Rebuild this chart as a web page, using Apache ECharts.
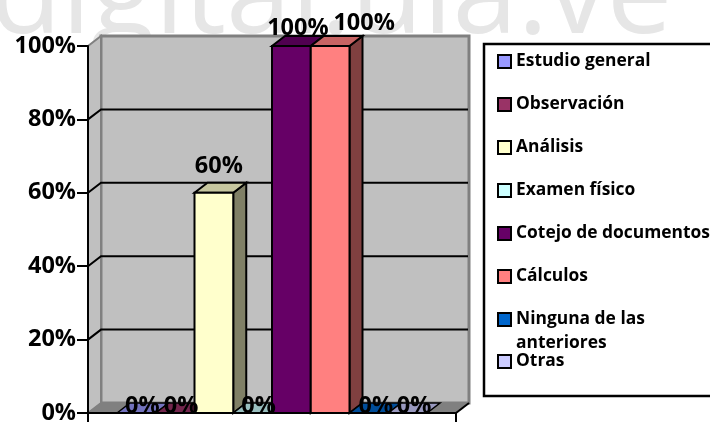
<!DOCTYPE html>
<html><head><meta charset="utf-8">
<style>html,body{margin:0;padding:0;background:#fff}#c{width:710px;height:425px}</style>
<script src="https://cdn.jsdelivr.net/npm/echarts@6/dist/echarts.min.js"></script>
</head><body><div id="c"></div>
<script>
const categories = ['Resultados'];
const seriesNames = ['Estudio general','Observación','Análisis','Examen físico','Cotejo de documentos','Cálculos','Ninguna de las anteriores','Otras'];
const seriesValues = [0,0,0.6,0,1,1,0,0];
const seriesColors = ['#9999FF','#993366','#FFFFCC','#CCFFFF','#660066','#FF8080','#0066CC','#CCCCFF'];
const yTicks = [0,0.2,0.4,0.6,0.8,1];
// label nudges relative to the front-top centre of each bar
const labelDx = [6,6,5,6,6.5,34,7,6.5];
const labelDy = [-7,-7,-26,-7,-18,-23,-7,-7];
const legendTops = [60,103,146,189,232,275,318,360];

const DX = 13, DY = 10, GAP = 29, FONT = '"Open Sans", sans-serif';
const shade = (hex, f) => {
  const n = parseInt(hex.slice(1),16);
  return 'rgb(' + [(n>>16)&255,(n>>8)&255,n&255].map(v=>Math.round(v*f)).join(',') + ')';
};
const barRect = (params, api, i) => {
  const cs = params.coordSys;
  const w = (cs.width - 2*GAP) / seriesNames.length;
  const x0 = cs.x + GAP + w*i;
  const yTop = api.coord([0, api.value(1)])[1];
  return {x0, w, yTop, yBase: cs.y + cs.height};
};
const poly = (points, fill, sw) => ({type:'polygon', shape:{points},
  style:{fill, stroke:'#000', lineWidth:sw===undefined?2:sw, lineJoin:'miter'}});

const wallSeries = {
  type:'custom', name:'__wall', z:1, silent:true, data:yTicks.map(v=>[0,v]),
  encode:{x:0,y:1}, tooltip:{show:false},
  renderItem(params, api){
    const cs = params.coordSys, v = api.value(1), y = api.coord([0,v])[1];
    const L = cs.x, R = cs.x+cs.width, T = cs.y, B = cs.y+cs.height;
    if (v === 0) {
      return {type:'group', children:[
        {type:'polygon', shape:{points:[[L+DX,T-DY],[R+DX,T-DY],[R+DX,B-DY],[L+DX,B-DY]]},
          style:{fill:'#c0c0c0', stroke:'#808080', lineWidth:3}},
        {type:'polygon', shape:{points:[[L,T],[L+DX,T-DY],[L+DX,B-DY],[L,B]]},
          style:{fill:'#c0c0c0', stroke:'#808080', lineWidth:2}},
        {type:'polygon', shape:{points:[[L,B],[L+DX,B-DY],[R+DX,B-DY],[R,B]]},
          style:{fill:'#808080', stroke:'#808080', lineWidth:1}},
        {type:'line', shape:{x1:R,y1:B,x2:R+DX,y2:B-DY}, style:{stroke:'#000',lineWidth:2}}
      ]};
    }
    if (v === 1) return {type:'group', children:[]};
    return {type:'polyline', shape:{points:[[L,y],[L+DX,y-DY],[R+DX-1,y-DY]]},
      style:{fill:'none', stroke:'#000', lineWidth:2}};
  }
};

const barSeries = seriesNames.map((name,i)=>({
  type:'custom', name, z:3+i, itemStyle:{color:seriesColors[i]},
  data:[[0,seriesValues[i]]], encode:{x:0,y:1},
  renderItem(params, api){
    const {x0,w,yTop,yBase} = barRect(params, api, i);
    const c = seriesColors[i];
    if (yBase - yTop < 1) {
      return poly([[x0,yBase],[x0+DX,yBase-DY],[x0+w+DX,yBase-DY],[x0+w,yBase]], shade(c,0.75), 1.5);
    }
    return {type:'group', children:[
      poly([[x0+w,yTop],[x0+w+DX,yTop-DY],[x0+w+DX,yBase-DY],[x0+w,yBase]], shade(c,0.5)),
      poly([[x0,yTop],[x0+DX,yTop-DY],[x0+w+DX,yTop-DY],[x0+w,yTop]], shade(c,0.78)),
      poly([[x0,yTop],[x0+w,yTop],[x0+w,yBase],[x0,yBase]], c)
    ]};
  }
}));

const labelSeries = seriesNames.map((name,i)=>({
  type:'custom', name:'__label'+i, z:20, silent:true, tooltip:{show:false},
  data:[[0,seriesValues[i]]], encode:{x:0,y:1},
  renderItem(params, api){
    const {x0,w,yTop} = barRect(params, api, i);
    return {type:'text', style:{
      text: Math.round(api.value(1)*100)+'%',
      x:x0+w/2+labelDx[i], y:yTop+labelDy[i], align:'center', verticalAlign:'middle',
      font:'bold 23.5px '+FONT, fill:'#000'}};
  }
}));

const legends = seriesNames.map((name,i)=>({
  data:[name], left:497, top:legendTops[i]-9, orient:'vertical',
  itemWidth:13, itemHeight:13, itemGap:0, padding:[2,0,2,0],
  icon:'rect', selectedMode:false,
  itemStyle:{borderColor:'#000', borderWidth:2},
  formatter:n=>n.replace(' anteriores',''),
  textStyle:{fontFamily:FONT, fontWeight:'bold', fontSize:17.4, color:'#000', padding:[0,0,0,0]}
}));

const chart = echarts.init(document.getElementById('c'), null, {renderer:'canvas'});
chart.setOption({
  animation:false,
  backgroundColor:'#fff',
  grid:{left:88, top:46, width:368, height:368, containLabel:false},
  legend:legends,
  xAxis:{type:'category', data:categories, z:10,
    axisLine:{lineStyle:{color:'#000',width:2}},
    axisTick:{show:true,length:9,lineStyle:{color:'#000',width:2}},
    axisLabel:{show:false}, splitLine:{show:false}},
  yAxis:{type:'value', min:0, max:1, interval:0.2, z:10,
    axisLine:{show:true,lineStyle:{color:'#000',width:2}},
    axisTick:{show:true,length:11,lineStyle:{color:'#000',width:2}},
    axisLabel:{formatter:v=>Math.round(v*100)+'%', fontFamily:FONT, fontWeight:'bold', fontSize:23.5, color:'#000', margin:12},
    splitLine:{show:false}},
  graphic:[
    {type:'text', z:-5, left:-10, top:-59, style:{text:'digital.ula.ve', font:'400 117px "Open Sans", sans-serif', fill:'#e6e6e6'}},
    {type:'rect', z:1, shape:{x:484,y:44,width:230,height:352}, style:{fill:'#fff',stroke:'#000',lineWidth:2.5}},
    {type:'text', z:2, left:516, top:335, style:{text:'anteriores', font:'bold 17.4px '+FONT, fill:'#000'}}
  ],
  series:[wallSeries, ...barSeries, ...labelSeries]
});
</script></body></html>
